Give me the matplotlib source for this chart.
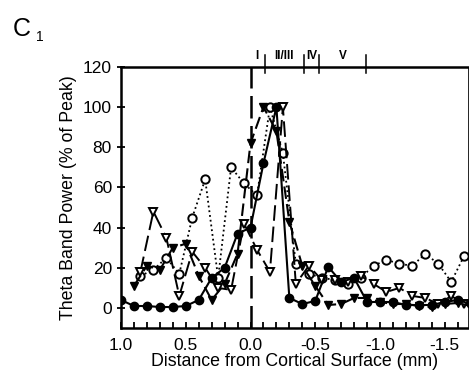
# Theta band power vs depth (C1)

import matplotlib
matplotlib.use("Agg")
import matplotlib.pyplot as plt

plt.rcParams["font.family"] = ["Liberation Sans", "DejaVu Sans"]

# --- data ---
x_int = [1.0, 0.9, 0.8, 0.7, 0.6, 0.5, 0.4, 0.3, 0.2, 0.1, 0.0, -0.1, -0.2, -0.3,
         -0.4, -0.5, -0.6, -0.7, -0.8, -0.9, -1.0, -1.1, -1.2, -1.3, -1.4, -1.5,
         -1.6, -1.7]
filled_circle = [4, 1, 1, 0.5, 0.5, 1, 4, 15, 20, 37, 40, 72, 100, 5,
                 2, 3.5, 20.5, 13, 15, 3, 3, 3, 1.5, 1.5, 1.5, 3, 4, 2]

x_tri = [0.9, 0.8, 0.7, 0.6, 0.5, 0.4, 0.3, 0.2, 0.1, 0.0, -0.1, -0.2, -0.3,
         -0.4, -0.5, -0.6, -0.7, -0.8, -0.9, -1.0, -1.1, -1.2, -1.3, -1.4, -1.5,
         -1.6, -1.7]
filled_tri = [11, 21, 19, 30, 32, 16, 4, 12, 27, 82, 100, 88, 43,
              21, 11, 1.5, 2, 5, 5, 3, 2, 2, 1, 0.5, 2, 2.5, 1]

x_half = [0.85, 0.75, 0.65, 0.55, 0.45, 0.35, 0.25, 0.15, 0.05, -0.05, -0.15,
          -0.25, -0.35, -0.45, -0.55, -0.65, -0.75, -0.85, -0.95, -1.05, -1.15,
          -1.25, -1.35, -1.45, -1.55, -1.65]
open_circle = [16, 19, 25, 17, 45, 64, 15, 70, 62, 56, 100,
               77, 22, 17, 15, 14, 12, 15, 21, 24, 22,
               21, 27, 22, 13, 26]
open_tri = [18, 48, 35, 6, 28, 20, 10, 9, 42, 29, 18,
            100, 12, 21, 14, 14, 13, 16, 12, 8, 10,
            6, 5, 2, 6, 2]

layer_bounds = [-0.11, -0.41, -0.53, -0.89]
layer_names = ["I", "II/III", "IV", "V"]
layer_pos = [-0.05, -0.26, -0.47, -0.71]

# --- figure ---
fig = plt.figure(figsize=(4.69, 3.78), dpi=100)
ax = fig.add_axes([0.258, 0.132, 0.740, 0.691])

ax.plot(x_half, open_circle, color="black", linestyle=":", lw=1.3,
        marker="o", mfc="white", mec="black", ms=6, mew=1.4)
ax.plot(x_half, open_tri, color="black", linestyle=(0, (8, 3)), lw=1.4,
        marker="v", mfc="white", mec="black", ms=6, mew=1.4)
ax.plot(x_tri, filled_tri, color="black", linestyle=(0, (6, 2.5)), lw=1.5,
        marker="v", mfc="black", mec="black", ms=6)
ax.plot(x_int, filled_circle, color="black", linestyle="-", lw=1.5,
        marker="o", mfc="black", mec="black", ms=6)

# surface marker
ax.axvline(0.0, color="black", lw=1.8, linestyle=(0, (9, 3)))

ax.set_xlim(1.0, -1.68)
ax.set_ylim(-10, 120)
ax.set_xticks([1.0, 0.5, 0.0, -0.5, -1.0, -1.5])
ax.set_xticklabels(["1.0", "0.5", "0.0", "-0.5", "-1.0", "-1.5"])
ax.set_xticks([round(1.0 - 0.1 * i, 1) for i in range(27)], minor=True)
ax.set_yticks([0, 20, 40, 60, 80, 100, 120])
ax.tick_params(axis="x", which="both", direction="in", length=4, width=1.3,
               labelsize=12.5, top=False, pad=7)
ax.tick_params(axis="y", direction="inout", length=6, width=1.3, labelsize=12.5)

for s in ["left", "bottom", "top"]:
    ax.spines[s].set_linewidth(1.8)
ax.spines["right"].set_linewidth(0.6)

ax.set_xlabel("Distance from Cortical Surface (mm)", fontsize=12.8, labelpad=0)
ax.set_ylabel("Theta Band Power (% of Peak)", fontsize=12.8, labelpad=4)

# cortical layer boundaries along the top
trans = ax.get_xaxis_transform()
for b in layer_bounds:
    ax.plot([b, b], [0.975, 1.045], transform=trans, color="black", lw=1.1,
            clip_on=False)
for p, name in zip(layer_pos, layer_names):
    ax.text(p, 1.02, name, transform=trans, ha="center", va="bottom",
            fontsize=8.5, fontweight="bold")

fig.text(0.027, 0.905, "C", fontsize=18, ha="left", va="baseline")
fig.text(0.077, 0.891, "1", fontsize=10, ha="left", va="baseline")

plt.savefig("out.png", dpi=100)
